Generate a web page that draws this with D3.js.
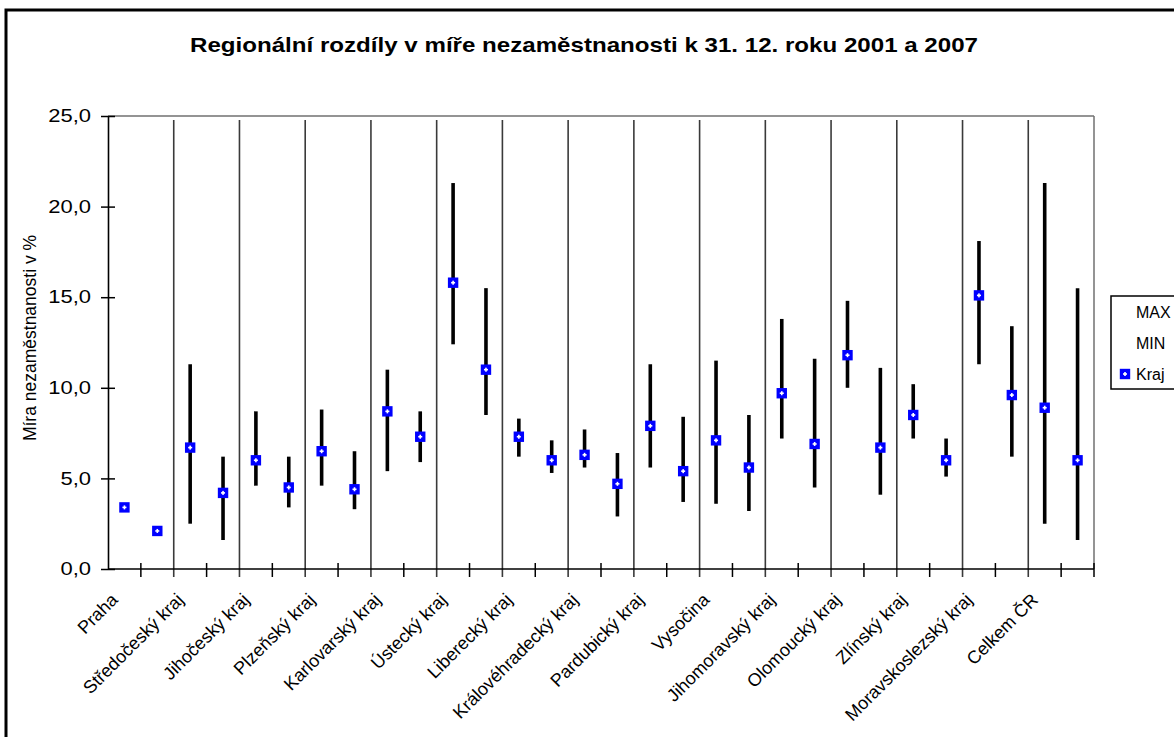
<!DOCTYPE html>
<html>
<head>
<meta charset="utf-8">
<script src="https://cdn.jsdelivr.net/npm/d3@7"></script>
<style>
  html, body { margin: 0; padding: 0; background: #fff; }
  svg { display: block; }
  text { font-family: "Liberation Sans", Arial, sans-serif; fill: #000; }
</style>
</head>
<body>
<svg id="chart" width="1174" height="737"></svg>
<script>
const categories = ["Praha", "Středočeský kraj", "Jihočeský kraj", "Plzeňský kraj", "Karlovarský kraj",
  "Ústecký kraj", "Liberecký kraj", "Královéhradecký kraj", "Pardubický kraj", "Vysočina",
  "Jihomoravský kraj", "Olomoucký kraj", "Zlínský kraj", "Moravskoslezský kraj", "Celkem ČR"];
const years = ["2001", "2007"];
const kraj2001 = [3.4, 6.7, 6.0, 6.5, 8.7, 15.8, 7.3, 6.3, 7.9, 7.1, 9.7, 11.8, 8.5, 15.1, 8.9];
const max2001  = [null, 11.3, 8.7, 8.8, 11.0, 21.3, 8.3, 7.7, 11.3, 11.5, 13.8, 14.8, 10.2, 18.1, 21.3];
const min2001  = [null, 2.5, 4.6, 4.6, 5.4, 12.4, 6.2, 5.6, 5.6, 3.6, 7.2, 10.0, 7.2, 11.3, 2.5];
const kraj2007 = [2.1, 4.2, 4.5, 4.4, 7.3, 11.0, 6.0, 4.7, 5.4, 5.6, 6.9, 6.7, 6.0, 9.6, 6.0];
const max2007  = [null, 6.2, 6.2, 6.5, 8.7, 15.5, 7.1, 6.4, 8.4, 8.5, 11.6, 11.1, 7.2, 13.4, 15.5];
const min2007  = [null, 1.6, 3.4, 3.3, 5.9, 8.5, 5.3, 2.9, 3.7, 3.2, 4.5, 4.1, 5.1, 6.2, 1.6];
const yTickValues = [0, 5, 10, 15, 20, 25];
const legendLabels = ["MAX", "MIN", "Kraj"];
const titleText = "Regionální rozdíly v míře nezaměstnanosti k 31. 12. roku 2001 a 2007";
const yAxisTitle = "Míra nezaměstnanosti v %";

const rows = [];
categories.forEach((c, i) => {
  rows.push({cat: c, year: "2001", kraj: kraj2001[i], min: min2001[i], max: max2001[i]});
  rows.push({cat: c, year: "2007", kraj: kraj2007[i], min: min2007[i], max: max2007[i]});
});

const svg = d3.select("#chart");
const L = 108, R = 1094, T = 116, B = 569;

const x0 = d3.scaleBand().domain(categories).range([L, R]).padding(0);
const x1 = d3.scaleBand().domain(years).range([0, x0.bandwidth()]).padding(0);
const y = d3.scaleLinear().domain([0, 25]).range([B, T]);
const cx = d => x0(d.cat) + x1(d.year) + x1.bandwidth() / 2;

// outer frame
svg.append("rect").attr("x", 6).attr("y", 10).attr("width", 1200).attr("height", 760)
  .attr("fill", "none").attr("stroke", "#000").attr("stroke-width", 3);

// title
svg.append("text").attr("x", 584).attr("y", 52).attr("text-anchor", "middle")
  .style("font-size", "20.5px").style("font-weight", "bold")
  .attr("textLength", 788).attr("lengthAdjust", "spacingAndGlyphs")
  .text(titleText);

// plot top & right border
svg.append("line").attr("x1", L).attr("x2", R).attr("y1", T).attr("y2", T)
  .attr("stroke", "#707070").attr("stroke-width", 1.5);
svg.append("line").attr("x1", R).attr("x2", R).attr("y1", T).attr("y2", B)
  .attr("stroke", "#707070").attr("stroke-width", 1.5);

// group separators
svg.append("g").selectAll("line").data(categories.slice(1)).join("line")
  .attr("x1", d => x0(d)).attr("x2", d => x0(d))
  .attr("y1", T + 4).attr("y2", B + 8)
  .attr("stroke", "#3a3a3a").attr("stroke-width", 1.6);

// x axis line and ticks
svg.append("line").attr("x1", L).attr("x2", R).attr("y1", B).attr("y2", B)
  .attr("stroke", "#000").attr("stroke-width", 1.6);
const xTickPos = [];
categories.forEach(c => { xTickPos.push(x0(c) + x1("2007")); });
xTickPos.push(R);
svg.append("g").selectAll("line").data(xTickPos).join("line")
  .attr("x1", d => d).attr("x2", d => d).attr("y1", B - 6).attr("y2", B + 8)
  .attr("stroke", "#000").attr("stroke-width", 1.5);

// y axis
const yAxis = svg.append("g").attr("transform", `translate(${L},0)`)
  .call(d3.axisLeft(y).tickValues(yTickValues).tickSizeInner(7).tickSizeOuter(0).tickPadding(10)
    .tickFormat(d => d.toFixed(1).replace(".", ",")));
yAxis.select(".domain").attr("stroke", "#000").attr("stroke-width", 1.6);
yAxis.selectAll(".tick line").attr("x1", 7).attr("x2", -7).attr("stroke", "#000").attr("stroke-width", 1.5);
yAxis.selectAll(".tick text").style("font-size", "18px").attr("fill", "#000")
  .style("font-family", '"Liberation Sans", Arial, sans-serif')
  .each(function() {
    const w = this.getComputedTextLength();
    d3.select(this).attr("textLength", w * 1.22).attr("lengthAdjust", "spacingAndGlyphs");
  });

// y axis title
svg.append("text").attr("transform", "translate(36,338) rotate(-90)")
  .attr("text-anchor", "middle").style("font-size", "17.5px").text(yAxisTitle);

// category labels
svg.append("g").selectAll("text").data(categories).join("text")
  .attr("transform", d => `translate(${x0(d) + x0.bandwidth() / 2 - 22},${B + 32}) rotate(-45)`)
  .attr("text-anchor", "end").style("font-size", "18px").text(d => d);

// min-max lines
svg.append("g").selectAll("line").data(rows.filter(d => d.min !== null)).join("line")
  .attr("x1", cx).attr("x2", cx).attr("y1", d => y(d.min)).attr("y2", d => y(d.max))
  .attr("stroke", "#000").attr("stroke-width", 3.6);

// markers
function drawMarker(g) {
  g.append("rect").attr("x", -5.2).attr("y", -5.2).attr("width", 10.4).attr("height", 10.4).attr("fill", "#0000ff");
  g.append("rect").attr("x", -2).attr("y", -0.8).attr("width", 4).attr("height", 1.6).attr("fill", "#fff");
  g.append("rect").attr("x", -0.8).attr("y", -2).attr("width", 1.6).attr("height", 4).attr("fill", "#fff");
}
svg.append("g").selectAll("g").data(rows).join("g")
  .attr("transform", d => `translate(${cx(d)},${y(d.kraj)})`)
  .each(function() { drawMarker(d3.select(this)); });

// legend
const lg = svg.append("g");
lg.append("rect").attr("x", 1111).attr("y", 296).attr("width", 100).attr("height", 93)
  .attr("fill", "#fff").attr("stroke", "#000").attr("stroke-width", 1.5);
const legY = d3.scalePoint().domain(legendLabels).range([312, 374]);
lg.selectAll("text").data(legendLabels).join("text")
  .attr("x", 1136).attr("y", d => legY(d)).attr("dy", "0.36em")
  .style("font-size", "16px").text(d => d);
lg.append("g").attr("transform", `translate(1125,${legY("Kraj")})`)
  .each(function() { drawMarker(d3.select(this)); });
</script>
</body>
</html>
